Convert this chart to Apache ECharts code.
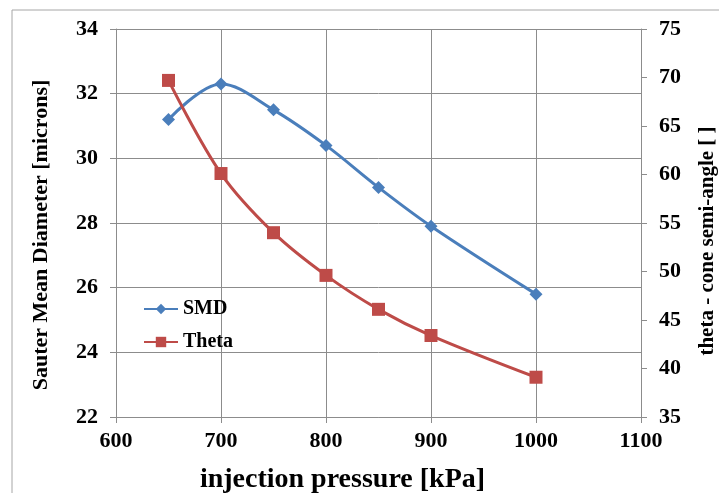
<!DOCTYPE html>
<html>
<head>
<meta charset="utf-8">
<script src="https://cdn.jsdelivr.net/npm/echarts@6/dist/echarts.min.js"></script>
<style>
  html, body { margin: 0; padding: 0; background: #fff; }
  #main { width: 719px; height: 493px; }
</style>
</head>
<body>
<div id="main"></div>
<script>
// injection pressure [kPa]
var pressure = [650, 700, 750, 800, 850, 900, 1000];
// Sauter mean diameter [microns]
var smd = [31.2, 32.3, 31.5, 30.4, 29.1, 27.9, 25.8];
// cone semi-angle
var theta = [69.7, 60.1, 54.0, 49.6, 46.1, 43.4, 39.1];

function pairs(xs, ys) {
    var out = [];
    for (var i = 0; i < xs.length; i++) {
        out.push([xs[i], ys[i]]);
    }
    return out;
}

var font = 'Liberation Serif';
var gridColor = '#8c8c8c';

var option = {
    animation: false,
    backgroundColor: '#fff',
    graphic: [{
        type: 'rect',
        shape: { x: 12, y: 10, width: 720, height: 500 },
        style: { fill: 'none', stroke: '#a6a6a6', lineWidth: 1 },
        silent: true
    }],
    grid: { left: 116, right: 78, top: 29, bottom: 76, outerBoundsMode: 'none' },
    legend: {
        orient: 'vertical',
        left: 138,
        top: 294,
        itemWidth: 34,
        itemHeight: 13,
        itemGap: 13,
        data: ['SMD', 'Theta'],
        textStyle: { fontFamily: font, fontWeight: 'bold', fontSize: 20, color: '#000' }
    },
    xAxis: {
        type: 'value',
        min: 600,
        max: 1100,
        interval: 100,
        name: 'injection pressure [kPa]',
        nameLocation: 'middle',
        nameGap: 49,
        nameTextStyle: { fontFamily: font, fontWeight: 'bold', fontSize: 28, color: '#000', padding: [0, 72, 0, 0] },
        axisLine: { lineStyle: { color: gridColor } },
        axisTick: { show: true, length: 6, lineStyle: { color: gridColor } },
        axisLabel: {
            fontFamily: font, fontWeight: 'bold', fontSize: 22, color: '#000', margin: 13,
            formatter: function (v) { return String(v); }
        },
        splitLine: { show: true, lineStyle: { color: gridColor } }
    },
    yAxis: [{
        type: 'value',
        min: 22,
        max: 34,
        interval: 2,
        name: 'Sauter Mean Diameter [microns]',
        nameLocation: 'middle',
        nameGap: 64,
        nameRotate: 90,
        nameTextStyle: { fontFamily: font, fontWeight: 'bold', fontSize: 22, color: '#000', padding: [0, 0, 0, -24] },
        axisLine: { show: true, lineStyle: { color: gridColor } },
        axisTick: { show: true, length: 6, lineStyle: { color: gridColor } },
        axisLabel: { fontFamily: font, fontWeight: 'bold', fontSize: 22, color: '#000', margin: 18 },
        splitLine: { show: true, lineStyle: { color: gridColor } }
    }, {
        type: 'value',
        min: 35,
        max: 75,
        interval: 5,
        position: 'right',
        name: 'theta - cone semi-angle [ ]',
        nameLocation: 'middle',
        nameGap: 56,
        nameRotate: 90,
        nameTextStyle: { fontFamily: font, fontWeight: 'bold', fontSize: 21, color: '#000', padding: [0, 0, 0, -36] },
        axisLine: { show: true, lineStyle: { color: gridColor } },
        axisTick: { show: true, length: 6, lineStyle: { color: gridColor } },
        axisLabel: { fontFamily: font, fontWeight: 'bold', fontSize: 22, color: '#000', margin: 18 },
        splitLine: { show: false }
    }],
    series: [{
        name: 'SMD',
        type: 'line',
        yAxisIndex: 0,
        smooth: 0.35,
        symbol: 'diamond',
        symbolSize: 13,
        data: pairs(pressure, smd),
        itemStyle: { color: '#4a7ebb' },
        lineStyle: { color: '#4a7ebb', width: 3 }
    }, {
        name: 'Theta',
        type: 'line',
        yAxisIndex: 1,
        smooth: 0.35,
        symbol: 'rect',
        symbolSize: 13,
        data: pairs(pressure, theta),
        itemStyle: { color: '#be4b48' },
        lineStyle: { color: '#be4b48', width: 3 }
    }]
};

var myChart = echarts.init(document.getElementById('main'));
myChart.setOption(option);
</script>
</body>
</html>
